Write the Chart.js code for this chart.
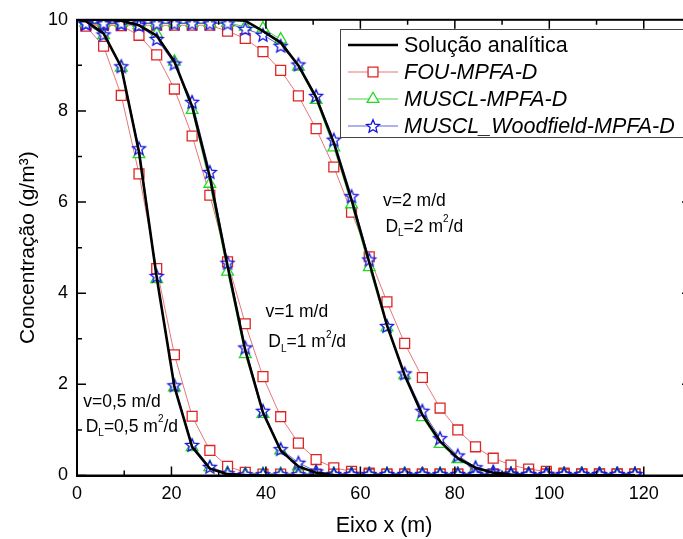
<!DOCTYPE html>
<html>
<head>
<meta charset="utf-8">
<script src="https://cdn.jsdelivr.net/npm/chart.js@4.4.1/dist/chart.umd.min.js"></script>
<style>
  html, body { margin: 0; padding: 0; background: #fff; overflow: hidden; width: 683px; height: 539px; }
  #wrap { width: 700px; height: 539px; }
</style>
</head>
<body>
<div id="wrap"><canvas id="grafico" width="700" height="539"></canvas></div>
<script>
// centros das células da malha (m)
const xCells = [1.875, 5.625, 9.375, 13.125, 16.875, 20.625, 24.375, 28.125, 31.875, 35.625,
  39.375, 43.125, 46.875, 50.625, 54.375, 58.125, 61.875, 65.625, 69.375, 73.125,
  76.875, 80.625, 84.375, 88.125, 91.875, 95.625, 99.375, 103.125, 106.875, 110.625,
  114.375, 118.125];
const xAnalytic = [0].concat(xCells);

// v=0,5 m/d
const exact05 = [10, 9.97, 9.70, 8.96, 7.10, 4.35, 1.95, 0.63, 0.15, 0.03, 0.01,
  0, 0, 0, 0, 0, 0, 0, 0, 0, 0, 0, 0, 0, 0, 0, 0, 0, 0, 0, 0, 0, 0];
const fou05 = [9.86, 9.42, 8.34, 6.62, 4.54, 2.65, 1.30, 0.55, 0.20, 0.07,
  0.03, 0.03, 0.03, 0.03, 0.03, 0.03, 0.03, 0.03, 0.03, 0.03, 0.03,
  0.03, 0.03, 0.03, 0.03, 0.03, 0.03, 0.03, 0.03, 0.03, 0.03, 0.03];
const muscl05 = [9.93, 9.66, 8.95, 7.05, 4.31, 1.93, 0.62, 0.18, 0.05,
  0.03, 0.03, 0.03, 0.03, 0.03, 0.03, 0.03, 0.03, 0.03, 0.03, 0.03, 0.03, 0.03,
  0.03, 0.03, 0.03, 0.03, 0.03, 0.03, 0.03, 0.03, 0.03, 0.03];
const wood05 = [9.92, 9.68, 8.98, 7.18, 4.38, 1.98, 0.67, 0.19, 0.05,
  0.03, 0.03, 0.03, 0.03, 0.03, 0.03, 0.03, 0.03, 0.03, 0.03, 0.03, 0.03, 0.03,
  0.03, 0.03, 0.03, 0.03, 0.03, 0.03, 0.03, 0.03, 0.03, 0.03];

// v=1 m/d
const exact1 = [10, 10, 10, 9.98, 9.88, 9.65, 9.08, 8.10, 6.55, 4.60, 2.75, 1.38, 0.55, 0.20, 0.06, 0.01,
  0, 0, 0, 0, 0, 0, 0, 0, 0, 0, 0, 0, 0, 0, 0, 0, 0];
const fou1 = [9.90, 9.90, 9.87, 9.66, 9.23, 8.48, 7.45, 6.15, 4.69, 3.33, 2.17, 1.29, 0.71, 0.35, 0.17, 0.09, 0.05,
  0.03, 0.03, 0.03, 0.03, 0.03, 0.03, 0.03, 0.03, 0.03, 0.03, 0.03, 0.03, 0.03, 0.03, 0.03];
const muscl1 = [9.93, 9.93, 9.93, 9.88, 9.69, 9.08, 8.02, 6.40, 4.47, 2.66, 1.35, 0.55, 0.20, 0.07,
  0.03, 0.03, 0.03, 0.03, 0.03, 0.03, 0.03, 0.03, 0.03, 0.03, 0.03, 0.03, 0.03, 0.03, 0.03, 0.03, 0.03, 0.03];
const wood1 = [9.92, 9.92, 9.92, 9.88, 9.58, 9.04, 8.20, 6.66, 4.67, 2.81, 1.42, 0.58, 0.28, 0.09,
  0.03, 0.03, 0.03, 0.03, 0.03, 0.03, 0.03, 0.03, 0.03, 0.03, 0.03, 0.03, 0.03, 0.03, 0.03, 0.03, 0.03, 0.03];

// v=2 m/d
const exact2 = [10, 10, 10, 10, 10, 10, 10, 10, 10, 10,
  9.98, 9.75, 9.50, 9.00, 8.30, 7.30, 6.05, 4.68, 3.30, 2.20, 1.33, 0.75, 0.38, 0.17, 0.06, 0.02,
  0, 0, 0, 0, 0, 0, 0];
const fou2 = [9.88, 9.88, 9.88, 9.88, 9.88, 9.88, 9.88, 9.88,
  9.75, 9.59, 9.30, 8.89, 8.33, 7.61, 6.77, 5.78, 4.80, 3.81, 2.90, 2.15, 1.48, 1.00, 0.63, 0.38, 0.23, 0.14, 0.09, 0.05,
  0.03, 0.03, 0.03, 0.03];
const muscl2 = [9.93, 9.93, 9.93, 9.93, 9.93, 9.93, 9.93, 9.93, 9.93,
  9.85, 9.81, 9.57, 8.97, 8.24, 7.20, 5.95, 4.57, 3.25, 2.20, 1.28, 0.69, 0.36, 0.15, 0.06,
  0.03, 0.03, 0.03, 0.03, 0.03, 0.03, 0.03, 0.03];
const wood2 = [9.92, 9.92, 9.92, 9.92, 9.92, 9.92, 9.92, 9.92, 9.92,
  9.80, 9.67, 9.43, 9.02, 8.33, 7.37, 6.13, 4.74, 3.28, 2.24, 1.42, 0.82, 0.44, 0.18, 0.09, 0.04,
  0.03, 0.03, 0.03, 0.03, 0.03, 0.03, 0.03];

// eixos
const xTickValues = [0, 20, 40, 60, 80, 100, 120];
const xMinorValues = [10, 30, 50, 70, 90, 110, 130];
const yTickValues = [0, 2, 4, 6, 8, 10];
const yMinorValues = [1, 3, 5, 7, 9];

const legendLabels = ['Solução analítica', 'FOU-MPFA-D', 'MUSCL-MPFA-D', 'MUSCL_Woodfield-MPFA-D'];

// textos dentro do gráfico (posição em coordenadas dos eixos)
const notes = [
  { x: 64.8, y: 6.02, parts: [['v=2 m/d']] },
  { x: 65.3, y: 5.46, parts: [['D'], ['L', 'sub'], ['=2 m'], ['2', 'sup'], ['/d']] },
  { x: 39.9, y: 3.59, parts: [['v=1 m/d']] },
  { x: 40.5, y: 2.93, parts: [['D'], ['L', 'sub'], ['=1 m'], ['2', 'sup'], ['/d']] },
  { x: 1.33, y: 1.60, parts: [['v=0,5 m/d']] },
  { x: 1.84, y: 1.07, parts: [['D'], ['L', 'sub'], ['=0,5 m'], ['2', 'sup'], ['/d']] }
];

const FONT = "'Liberation Sans', Arial, sans-serif";

function starImage(color, r) {
  const c = document.createElement('canvas');
  const s = Math.ceil(r * 2 + 4);
  c.width = s; c.height = s;
  const g = c.getContext('2d');
  g.beginPath();
  for (let i = 0; i < 10; i++) {
    const rad = i % 2 ? r * 0.45 : r;
    const a = -Math.PI / 2 + i * Math.PI / 5;
    g.lineTo(s / 2 + rad * Math.cos(a), s / 2 + 0.6 + rad * Math.sin(a));
  }
  g.closePath();
  g.fillStyle = '#fff';
  g.fill();
  g.strokeStyle = color;
  g.lineWidth = 1.3;
  g.stroke();
  return c;
}

const pts = (xs, ys) => ys.map((y, i) => ({ x: xs[i], y: y }));
const star = starImage('#1414dc', 6.8);

const styles = [
  { borderColor: '#000', borderWidth: 2.6, pointRadius: 0, order: 0 },
  { borderColor: 'rgba(225,95,95,0.85)', borderWidth: 1, pointStyle: 'rect', pointRadius: 7,
    pointBorderColor: '#e02424', pointBackgroundColor: '#fff', pointBorderWidth: 1.3, order: 3 },
  { borderColor: 'rgba(60,200,60,0.9)', borderWidth: 1, pointStyle: 'triangle', pointRadius: 6.8,
    pointBorderColor: '#20dc20', pointBackgroundColor: '#fff', pointBorderWidth: 1.3, order: 2 },
  { borderColor: 'rgba(60,60,210,0.9)', borderWidth: 0.9, pointStyle: star, pointRadius: 7,
    pointBorderColor: '#1414dc', pointBackgroundColor: '#fff', pointBorderWidth: 1.3, order: 1 }
];

const series = [
  [exact05, exact1, exact2],
  [fou05, fou1, fou2],
  [muscl05, muscl1, muscl2],
  [wood05, wood1, wood2]
];

const datasets = [];
series.forEach((group, m) => {
  group.forEach((vals, k) => {
    const xs = m === 0 ? xAnalytic : xCells;
    datasets.push(Object.assign({
      label: legendLabels[m],
      data: pts(xs, vals),
      showLine: true,
      fill: false,
      tension: 0,
      legendRow: k === 0 ? m : -1
    }, styles[m]));
  });
});

function drawRich(ctx, parts, x, y) {
  let cx = x;
  parts.forEach(p => {
    const kind = p[1];
    if (kind) {
      ctx.font = '10px ' + FONT;
      ctx.fillText(p[0], cx, y + (kind === 'sub' ? 7 : -7));
      cx += ctx.measureText(p[0]).width;
    } else {
      ctx.font = '17.5px ' + FONT;
      ctx.fillText(p[0], cx, y);
      cx += ctx.measureText(p[0]).width;
    }
  });
}

const framePlugin = {
  id: 'frame',
  afterDraw(chart) {
    const ctx = chart.ctx;
    const a = chart.chartArea;
    const sx = chart.scales.x, sy = chart.scales.y;
    ctx.save();
    ctx.strokeStyle = '#000';
    ctx.lineWidth = 2;
    ctx.strokeRect(a.left, a.top, a.right - a.left, a.bottom - a.top);
    ctx.lineWidth = 1.5;
    ctx.beginPath();
    const xt = (v, len) => {
      const p = sx.getPixelForValue(v);
      ctx.moveTo(p, a.bottom); ctx.lineTo(p, a.bottom - len);
      ctx.moveTo(p, a.top); ctx.lineTo(p, a.top + len);
    };
    const yt = (v, len) => {
      const p = sy.getPixelForValue(v);
      ctx.moveTo(a.left, p); ctx.lineTo(a.left + len, p);
      ctx.moveTo(a.right, p); ctx.lineTo(a.right - len, p);
    };
    xTickValues.forEach(v => xt(v, 9));
    xMinorValues.forEach(v => xt(v, 5));
    yTickValues.forEach(v => yt(v, 9));
    yMinorValues.forEach(v => yt(v, 5));
    ctx.stroke();

    // legenda
    ctx.lineWidth = 1;
    ctx.strokeStyle = '#444';
    ctx.fillStyle = '#fff';
    ctx.fillRect(340, 29, 360, 109);
    ctx.strokeRect(340.5, 29.5, 360, 108);
    const rowY = [45, 72, 99, 126];
    chart.data.datasets.forEach(ds => {
      if (ds.legendRow < 0) return;
      const y = rowY[ds.legendRow];
      ctx.strokeStyle = ds.borderColor;
      ctx.lineWidth = ds.borderWidth;
      ctx.beginPath();
      ctx.moveTo(348, y); ctx.lineTo(398, y);
      ctx.stroke();
      if (ds.pointRadius > 0) {
        ctx.strokeStyle = ds.pointBorderColor;
        ctx.fillStyle = ds.pointBackgroundColor;
        ctx.lineWidth = ds.pointBorderWidth;
        Chart.helpers.drawPoint(ctx, { pointStyle: ds.pointStyle, radius: ds.pointRadius, rotation: 0, borderWidth: ds.pointBorderWidth }, 373, y);
      }
      ctx.fillStyle = '#000';
      ctx.textBaseline = 'middle';
      ctx.textAlign = 'left';
      ctx.font = (ds.legendRow === 0 ? '' : 'italic ') + '21.5px ' + FONT;
      ctx.fillText(ds.label, 404, y + 1);
    });

    // anotações
    ctx.fillStyle = '#000';
    ctx.textBaseline = 'middle';
    notes.forEach(n => drawRich(ctx, n.parts, sx.getPixelForValue(n.x), sy.getPixelForValue(n.y)));
    ctx.restore();
  }
};

new Chart(document.getElementById('grafico'), {
  type: 'scatter',
  data: { datasets: datasets },
  options: {
    responsive: false,
    animation: false,
    layout: { padding: { top: 19, right: 9, bottom: 0, left: 0 } },
    plugins: { legend: { display: false }, tooltip: { enabled: false } },
    scales: {
      x: {
        type: 'linear', min: 0, max: 130,
        afterBuildTicks: s => { s.ticks = xTickValues.map(v => ({ value: v })); },
        afterFit: s => { s.height = 63.5; },
        grid: { display: false, drawTicks: false },
        border: { display: true, color: '#000', width: 2 },
        ticks: { color: '#000', font: { size: 18, family: FONT }, padding: 8, maxRotation: 0 },
        title: { display: true, text: 'Eixo x (m)', color: '#000', font: { size: 21.5, family: FONT }, padding: { top: 0, bottom: 0 } }
      },
      y: {
        type: 'linear', min: 0, max: 10,
        afterBuildTicks: s => { s.ticks = yTickValues.map(v => ({ value: v })); },
        afterFit: s => { s.width = 77; },
        grid: { display: false, drawTicks: false },
        border: { display: true, color: '#000', width: 2 },
        ticks: { color: '#000', font: { size: 18, family: FONT }, padding: 9 },
        title: { display: true, text: 'Concentração (g/m³)', color: '#000', font: { size: 21, family: FONT }, padding: { top: 15.5, bottom: 0 } }
      }
    }
  },
  plugins: [framePlugin]
});
</script>
</body>
</html>
